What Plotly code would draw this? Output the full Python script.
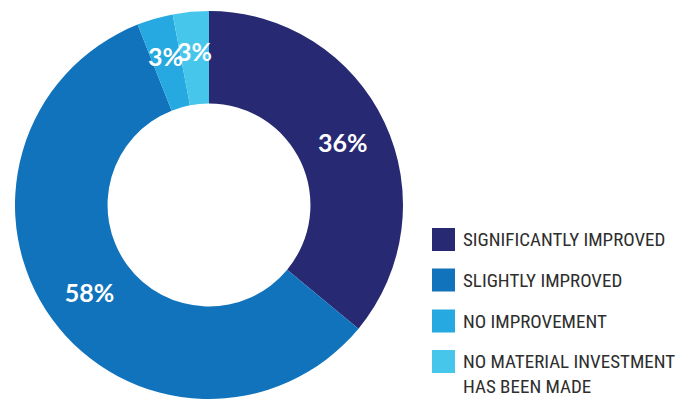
import math
import plotly.graph_objects as go

# Survey responses (share of respondents, %)
categories = [
    "SIGNIFICANTLY IMPROVED",
    "SLIGHTLY IMPROVED",
    "NO IMPROVEMENT",
    "NO MATERIAL INVESTMENT<br>HAS BEEN MADE",
]
shares = [36, 58, 3, 3]
colors = ["#272973", "#1173BB", "#25A9E0", "#47C6EC"]

W, H = 686, 399
CX, CY, R_OUT = 209, 205, 194   # donut centre / outer radius in pixels
HOLE = 0.523


def px_x(x):
    return x / W


def px_y(y):
    return 1 - y / H


# Thin slices get their labels placed outside the pie's own text layout
small = [s < 10 for s in shares]
label_font = dict(family="Lato", size=25, color="white", weight="bold")

fig = go.Figure(
    go.Pie(
        labels=categories,
        values=shares,
        sort=False,
        direction="clockwise",
        rotation=0,
        hole=HOLE,
        marker=dict(colors=colors, line=dict(width=0)),
        texttemplate="%{value}%",
        textposition=["none" if s else "inside" for s in small],
        insidetextorientation="horizontal",
        textfont=label_font,
        domain=dict(x=[px_x(CX - R_OUT), px_x(CX + R_OUT)], y=[0, px_y(CY - R_OUT)]),
        showlegend=False,
        hoverinfo="label+percent",
    )
)

annotations = []
total = sum(shares)
cum = 0
for s, is_small in zip(shares, small):
    mid = (cum + s / 2) / total * 2 * math.pi
    cum += s
    if not is_small:
        continue
    r = 155
    x = CX + r * math.sin(mid)
    y = CY - r * math.cos(mid)
    annotations.append(dict(
        text=f"{s}%", xref="paper", yref="paper", x=px_x(x), y=px_y(y),
        xanchor="center", yanchor="middle", showarrow=False, font=label_font,
    ))

# Legend drawn as swatches + labels on the right
shapes = []
row_top = [228, 268.5, 309.5, 350]
sw = 23
for i, (label, col) in enumerate(zip(categories, colors)):
    y0 = row_top[i]
    shapes.append(dict(
        type="rect", xref="paper", yref="paper",
        x0=px_x(432), x1=px_x(432 + sw), y0=px_y(y0 + sw), y1=px_y(y0),
        fillcolor=col, line=dict(width=0),
    ))
    for j, line in enumerate(label.split("<br>")):
        annotations.append(dict(
            text=line, xref="paper", yref="paper",
            x=px_x(461), y=px_y(y0 + sw / 2 + 25 * j),
            xanchor="left", yanchor="middle", showarrow=False,
            font=dict(family="Roboto Condensed", size=19, weight=400,
                      color="#2e2e2e"),
        ))

fig.update_layout(
    width=W, height=H,
    margin=dict(l=0, r=0, t=0, b=0),
    paper_bgcolor="white",
    plot_bgcolor="white",
    uniformtext=dict(minsize=25, mode="show"),
    shapes=shapes,
    annotations=annotations,
)

fig.write_html("out.html")
